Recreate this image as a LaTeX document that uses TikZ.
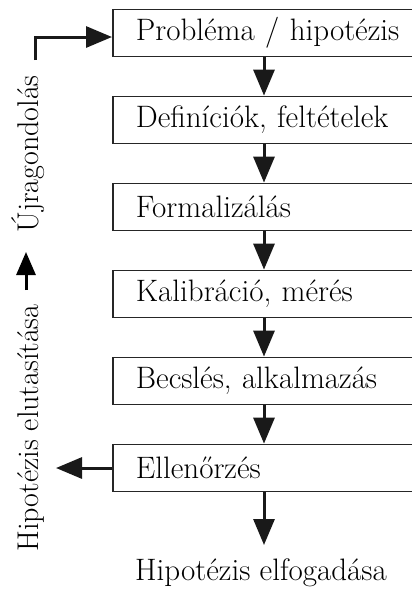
\documentclass[tikz,border=0pt]{standalone}
\usetikzlibrary{arrows.meta}
\tikzset{
  stepbox/.style={draw=black!85,line width=1.8pt,anchor=west,minimum height=47pt,
    text width=290pt,inner xsep=23pt,align=left,font=\fontsize{31}{36}\selectfont},
  flow/.style={line width=3pt,draw=black!90,-{Triangle[length=26pt,width=21pt]}},
  sidetext/.style={rotate=90,anchor=base,inner sep=0pt,font=\fontsize{30}{34}\selectfont},
  endtext/.style={anchor=base,inner sep=0pt,font=\fontsize{31}{36}\selectfont}}
\begin{document}
\begin{tikzpicture}[x=1pt,y=-1pt]
\useasboundingbox (0,0) rectangle (412,590);
\clip (0,0) rectangle (412,590);
\node[stepbox] (b1) at (112,33) {Probléma / hipotézis};
\node[stepbox] (b2) at (112,120) {Definíciók, feltételek};
\node[stepbox] (b3) at (112,207) {Formalizálás};
\node[stepbox] (b4) at (112,294) {Kalibráció, mérés};
\node[stepbox] (b5) at (112,381) {Becslés, alkalmazás};
\node[stepbox] (b6) at (112,468) {Ellenőrzés};
\node[endtext] (acc) at (261,580) {Hipotézis elfogadása};
\node[sidetext] (rej) at (38,428) {Hipotézis elutasítása};
\node[sidetext] (re) at (38,154) {Újragondolás};
\coordinate (c1) at (264,0);
\foreach \a/\b in {b1/b2,b2/b3,b3/b4,b4/b5,b5/b6}
  \draw[flow] (\a.south -| c1) -- (\b.north -| c1);
\coordinate (accTip) at (264,545);
\draw[flow] (b6.south -| c1) -- (accTip);
\coordinate (rejTip) at (56,468);
\draw[flow] (b6.west) -- (rejTip);
\coordinate (upTail) at (26,290);
\coordinate (upTip) at (26,252);
\draw[line width=3pt,-{Triangle[length=23pt,width=19pt]}] (upTail) -- (upTip);
\coordinate (loopStart) at (35,60);
\coordinate (loopCorner) at (35,37);
\draw[flow] (loopStart) -- (loopCorner) -- (loopCorner -| b1.west);
\end{tikzpicture}
\end{document}
